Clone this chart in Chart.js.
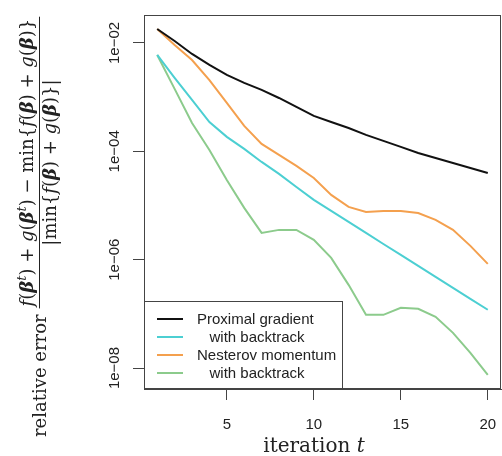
<!DOCTYPE html>
<html><head><meta charset="utf-8">
<script src="https://cdn.jsdelivr.net/npm/chart.js@4/dist/chart.umd.min.js"></script>
<style>html,body{margin:0;padding:0;background:#fff}</style>
</head><body>
<canvas id="c" width="502" height="456"></canvas>
<script>
const iterations = [1,2,3,4,5,6,7,8,9,10,11,12,13,14,15,16,17,18,19,20];
const proximalGradient = [1.81e-2,1.09e-2,6.27e-3,3.93e-3,2.57e-3,1.83e-3,1.36e-3,9.66e-4,6.59e-4,4.50e-4,3.48e-4,2.70e-4,2.01e-4,1.56e-4,1.21e-4,9.33e-5,7.55e-5,6.11e-5,4.94e-5,3.99e-5];
const proximalBacktrack = [6.01e-3,2.26e-3,8.87e-4,3.48e-4,1.85e-4,1.11e-4,6.37e-5,3.83e-5,2.20e-5,1.27e-5,7.94e-6,4.98e-6,3.12e-6,1.95e-6,1.23e-6,7.69e-7,4.82e-7,3.02e-7,1.89e-7,1.19e-7];
const nesterovMomentum = [1.81e-2,9.18e-3,4.85e-3,2.07e-3,7.82e-4,2.94e-4,1.37e-4,8.59e-5,5.38e-5,3.23e-5,1.57e-5,9.42e-6,7.62e-6,7.94e-6,7.94e-6,7.29e-6,5.42e-6,3.55e-6,1.80e-6,8.37e-7];
const nesterovBacktrack = [6.01e-3,1.42e-3,3.34e-4,1.06e-4,2.96e-5,9.04e-6,3.12e-6,3.55e-6,3.55e-6,2.32e-6,1.08e-6,3.43e-7,9.59e-8,9.59e-8,1.29e-7,1.24e-7,8.81e-8,4.46e-8,1.91e-8,7.50e-9];
const seriesLabels = ["Proximal gradient","   with backtrack","Nesterov momentum","   with backtrack"];
const seriesColors = ["#111111","#4ccfd2","#f4a04e","#8ccb8c"];
const xTicks = [5,10,15,20];
const yTicks = [1e-2,1e-4,1e-6,1e-8];
const yTickLabels = ["1e\u221202","1e\u221204","1e\u221206","1e\u221208"];
const xTitle = "iteration ";
const xTitleVar = "t";
const yTitleWord = "relative error";

const seriesValues = [proximalGradient, proximalBacktrack, nesterovMomentum, nesterovBacktrack];
const datasets = seriesValues.map((vals, i) => ({
  label: seriesLabels[i],
  data: iterations.map((t, k) => ({x: t, y: vals[k]})),
  borderColor: seriesColors[i],
  backgroundColor: seriesColors[i],
  borderWidth: 2,
  pointRadius: 0,
  tension: 0,
  fill: false
}));

const AXIS = '#444';
const SANS = '"Liberation Sans", Arial, sans-serif';
const SERIF = '"DejaVu Serif", serif';

const decor = {
  id: 'decor',
  afterDatasetsDraw(chart) {
    const ctx = chart.ctx, a = chart.chartArea;
    ctx.save();
    ctx.strokeStyle = AXIS; ctx.lineWidth = 1;
    ctx.strokeRect(a.left + 0.5, a.top + 0.5, a.right - a.left - 1, a.bottom - a.top - 1);
    const lx = a.left, lw = 198, lh = 88, ly = a.bottom - lh;
    ctx.fillStyle = '#fff';
    ctx.fillRect(lx, ly, lw, lh);
    ctx.strokeRect(lx + 0.5, ly + 0.5, lw, lh - 1);
    ctx.font = '15px ' + SANS;
    ctx.textBaseline = 'middle';
    ctx.textAlign = 'left';
    chart.data.datasets.forEach((ds, i) => {
      const yy = ly + 18 + i * 18;
      ctx.strokeStyle = ds.borderColor; ctx.lineWidth = 2;
      ctx.beginPath(); ctx.moveTo(lx + 13, yy); ctx.lineTo(lx + 39, yy); ctx.stroke();
      ctx.fillStyle = '#222';
      ctx.fillText(ds.label, lx + 53, yy + 1);
    });
    ctx.restore();
  },
  afterDraw(chart) {
    const ctx = chart.ctx, ys = chart.scales.y;
    ctx.save();
    ctx.fillStyle = '#222';
    ctx.font = '15px ' + SANS;
    ctx.textAlign = 'center'; ctx.textBaseline = 'alphabetic';
    yTicks.forEach((v, i) => {
      const py = ys.getPixelForValue(v);
      ctx.save(); ctx.translate(119, py); ctx.rotate(-Math.PI / 2);
      ctx.fillText(yTickLabels[i], 0, 0); ctx.restore();
    });
    ctx.font = '20px ' + SERIF;
    const w1 = ctx.measureText(xTitle).width;
    ctx.font = 'italic 20px ' + SERIF;
    const w2 = ctx.measureText(xTitleVar).width;
    const cx = 314, start = cx - (w1 + w2) / 2;
    ctx.textAlign = 'left';
    ctx.font = '20px ' + SERIF; ctx.fillText(xTitle, start, 452);
    ctx.font = 'italic 20px ' + SERIF; ctx.fillText(xTitleVar, start + w1, 452);
    const fs = 18;
    const fontOf = s => (s.it ? 'italic ' : '') + (s.b ? 'bold ' : '') + (s.sup ? Math.round(fs * 0.7) : fs) + 'px ' + SERIF;
    const widthOf = segs => segs.reduce((w, s) => { ctx.font = fontOf(s); return w + ctx.measureText(s.t).width; }, 0);
    const drawSegs = (segs, x, y) => {
      segs.forEach(s => { ctx.font = fontOf(s); ctx.fillText(s.t, x, s.sup ? y - fs * 0.4 : y); x += ctx.measureText(s.t).width; });
    };
    const num = [{t:'f',it:1},{t:'('},{t:'\u03B2',it:1,b:1},{t:'t',it:1,sup:1},{t:') + '},{t:'g',it:1},{t:'('},{t:'\u03B2',it:1,b:1},{t:'t',it:1,sup:1},{t:') \u2212 min{'},{t:'f',it:1},{t:'('},{t:'\u03B2',it:1,b:1},{t:') + '},{t:'g',it:1},{t:'('},{t:'\u03B2',it:1,b:1},{t:')}'}];
    const den = [{t:'|min{'},{t:'f',it:1},{t:'('},{t:'\u03B2',it:1,b:1},{t:') + '},{t:'g',it:1},{t:'('},{t:'\u03B2',it:1,b:1},{t:')}|'}];
    ctx.save();
    ctx.translate(0, 456); ctx.rotate(-Math.PI / 2);
    ctx.textAlign = 'left';
    ctx.font = fs + 'px ' + SERIF;
    const x0 = 19;
    ctx.fillText(yTitleWord, x0, 46);
    const wr = ctx.measureText(yTitleWord).width;
    const wn = widthOf(num), wd = widthOf(den);
    const fx = x0 + wr + 6, bl = Math.max(wn, wd) + 4;
    ctx.fillRect(fx, 39, bl, 1);
    drawSegs(num, fx + (bl - wn) / 2, 33);
    drawSegs(den, fx + (bl - wd) / 2, 56);
    ctx.restore();
    ctx.restore();
  }
};

new Chart(document.getElementById('c'), {
  type: 'line',
  data: { datasets },
  options: {
    responsive: false,
    animation: false,
    devicePixelRatio: 1,
    layout: { padding: { left: 0, top: 15, right: 1, bottom: 0 } },
    plugins: { legend: { display: false }, tooltip: { enabled: false } },
    scales: {
      x: {
        type: 'linear', min: 0.24, max: 20.76,
        afterBuildTicks: s => { s.ticks = xTicks.map(v => ({ value: v })); },
        afterFit: s => { s.height = 67; s.paddingLeft = 0; s.paddingRight = 0; },
        grid: { display: true, drawOnChartArea: false, drawTicks: true, tickLength: 11, color: AXIS, lineWidth: 1 },
        border: { display: true, color: AXIS, width: 1 },
        ticks: { font: { family: SANS, size: 15 }, color: '#222', padding: 16, maxRotation: 0, autoSkip: false }
      },
      y: {
        type: 'logarithmic', min: Math.pow(10, -8.387), max: Math.pow(10, -1.4834),
        afterBuildTicks: s => { s.ticks = yTicks.map(v => ({ value: v })); },
        afterFit: s => { s.width = 144; s.paddingTop = 0; s.paddingBottom = 0; },
        grid: { display: true, drawOnChartArea: false, drawTicks: true, tickLength: 11, color: AXIS, lineWidth: 1 },
        border: { display: true, color: AXIS, width: 1 },
        ticks: { display: false }
      }
    }
  },
  plugins: [decor]
});
</script>
</body></html>
